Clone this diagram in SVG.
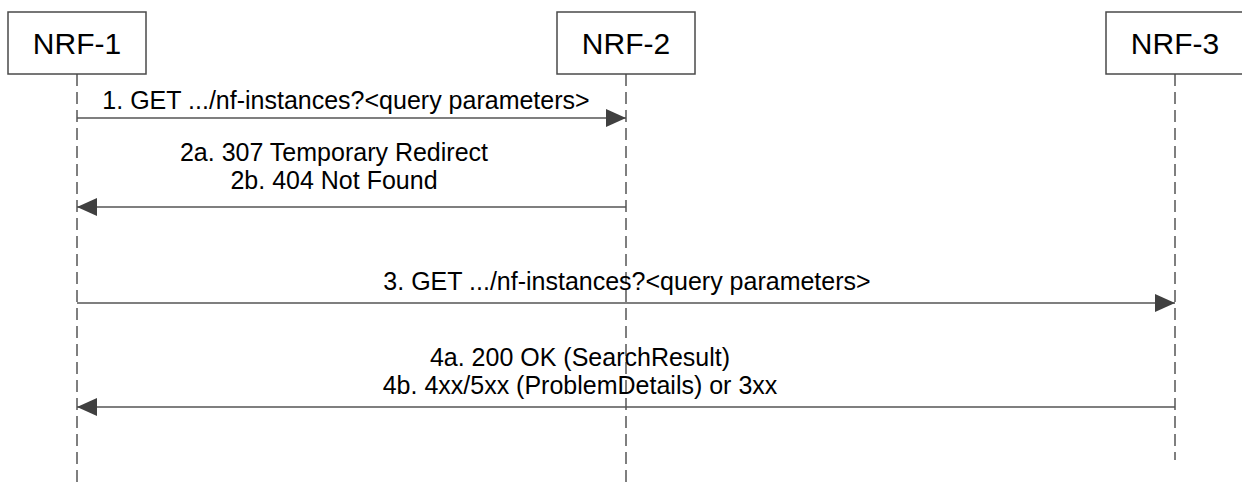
<svg xmlns="http://www.w3.org/2000/svg" width="1242" height="482" viewBox="0 0 1242 482">
<defs>
<style>
.box{fill:#fff;stroke:#4a4a4a;stroke-width:1.5}
.nt{font-family:"Liberation Sans",Arial,sans-serif;font-size:30px;fill:#000;text-anchor:middle}
.lt{font-family:"Liberation Sans",Arial,sans-serif;font-size:25px;fill:#000;text-anchor:middle}
.life{stroke:#555;stroke-width:1.5;stroke-dasharray:12 6;fill:none}
.msg{stroke:#555;stroke-width:1.5;fill:none}
</style>
<marker id="ah" viewBox="0 0 20 18" refX="20" refY="9" markerWidth="20" markerHeight="18" markerUnits="userSpaceOnUse" orient="auto">
<path d="M0,0 L20,9 L0,18 Z" fill="#404040"/>
</marker>
</defs>
<rect width="1242" height="482" fill="#fff"/>
<g id="connectors">
<line class="life" x1="77" y1="74" x2="77" y2="482"/>
<line class="life" x1="626" y1="74" x2="626" y2="482"/>
<line class="life" x1="1175" y1="74" x2="1175" y2="460"/>
<line class="msg" x1="77" y1="118" x2="626" y2="118" marker-end="url(#ah)"/>
<line class="msg" x1="626" y1="207" x2="77" y2="207" marker-end="url(#ah)"/>
<line class="msg" x1="77" y1="303" x2="1175" y2="303" marker-end="url(#ah)"/>
<line class="msg" x1="1175" y1="407" x2="77" y2="407" marker-end="url(#ah)"/>
</g>
<g id="labels">
<text class="lt" x="346" y="109">1. GET .../nf-instances?&lt;query parameters&gt;</text>
<text class="lt" x="334" y="161">2a. 307 Temporary Redirect</text>
<text class="lt" x="334" y="189">2b. 404 Not Found</text>
<text class="lt" x="627" y="290">3. GET .../nf-instances?&lt;query parameters&gt;</text>
<text class="lt" x="580" y="366">4a. 200 OK (SearchResult)</text>
<text class="lt" x="580" y="394">4b. 4xx/5xx (ProblemDetails) or 3xx</text>
</g>
<g id="nrf1">
<rect class="box" x="8" y="12" width="138" height="62"/>
<text class="nt" x="77" y="54">NRF-1</text>
</g>
<g id="nrf2">
<rect class="box" x="557" y="12" width="138" height="62"/>
<text class="nt" x="626" y="54">NRF-2</text>
</g>
<g id="nrf3">
<rect class="box" x="1106" y="12" width="138" height="62"/>
<text class="nt" x="1175" y="54">NRF-3</text>
</g>
</svg>
